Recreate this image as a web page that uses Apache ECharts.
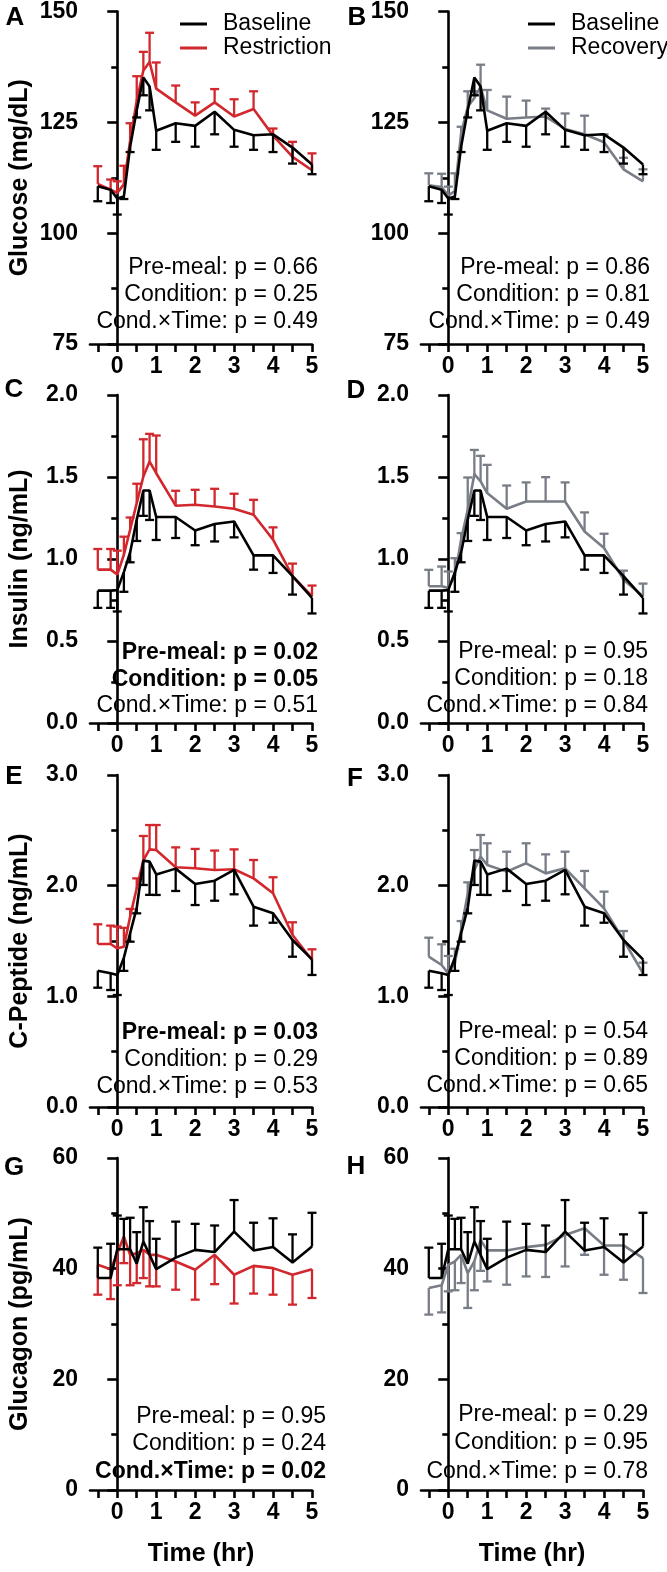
<!DOCTYPE html>
<html><head><meta charset="utf-8">
<script src="https://cdn.jsdelivr.net/npm/echarts@6/dist/echarts.min.js"></script>
<style>html,body{margin:0;padding:0;background:#fff}#c{width:667px;height:1572px}</style>
</head><body><div id="c"></div>
<script>
// ---- data ----
const timeHr = [-0.5, -0.17, 0, 0.17, 0.33, 0.5, 0.67, 0.83, 1, 1.5, 2, 2.5, 3, 3.5, 4, 4.5, 5];
const xTickValues = [-0.5, 0, 0.5, 1, 1.5, 2, 2.5, 3, 3.5, 4, 4.5, 5];
const xTickLabels = [0, 1, 2, 3, 4, 5];

const glucoseBaseline = [110.6, 109.8, 107.8, 108.3, 119.5, 127.7, 135.1, 133.1, 123.1, 124.8, 124.2, 127.4, 123.3, 122.1, 122.3, 119.3, 115.5];
const glucoseBaselineSem = [3.4, 3.0, 3.6, 0.6, 1.2, 1.6, 4.0, 5.4, 4.3, 4.2, 4.7, 5.1, 3.8, 3.3, 4.0, 3.6, 2.2];
const glucoseRestriction = [111.1, 109.8, 109.1, 111.0, 120.8, 129.9, 136.7, 138.6, 132.6, 129.5, 126.5, 129.5, 126.3, 128.0, 122.0, 117.2, 114.2];
const glucoseRestrictionSem = [4.0, 2.3, 2.6, 4.2, 4.0, 5.5, 4.2, 6.6, 5.9, 3.8, 3.0, 3.0, 3.9, 4.0, 1.6, 3.4, 3.8];
const glucoseRecovery = [110.8, 110.4, 108.5, 109.5, 122.5, 128.5, 130.5, 133.0, 127.7, 125.8, 126.1, 126.3, 123.5, 122.3, 120.5, 114.4, 111.7];
const glucoseRecoverySem = [2.7, 3.0, 2.0, 4.0, 1.5, 3.5, 1.5, 5.0, 4.6, 5.0, 3.8, 1.8, 3.5, 4.2, 1.8, 2.6, 2.7];

const insulinBaseline = [0.807, 0.807, 0.81, 0.92, 1.04, 1.24, 1.418, 1.418, 1.256, 1.256, 1.174, 1.213, 1.229, 1.022, 1.022, 0.895, 0.763];
const insulinBaselineSem = [0.105, 0.105, 0.13, 0.12, 0.06, 0.13, 0.155, 0.18, 0.14, 0.128, 0.09, 0.106, 0.097, 0.087, 0.107, 0.112, 0.095];
const insulinRestriction = [0.935, 0.935, 0.905, 1.026, 1.178, 1.341, 1.503, 1.594, 1.523, 1.325, 1.331, 1.32, 1.306, 1.27, 1.118, 0.895, 0.773];
const insulinRestrictionSem = [0.126, 0.126, 0.146, 0.11, 0.075, 0.118, 0.227, 0.169, 0.23, 0.091, 0.091, 0.108, 0.092, 0.091, 0.075, 0.077, 0.065];
const insulinRecovery = [0.834, 0.834, 0.824, 0.895, 1.118, 1.30, 1.517, 1.473, 1.402, 1.306, 1.351, 1.351, 1.351, 1.168, 1.067, 0.874, 0.773];
const insulinRecoverySem = [0.10, 0.12, 0.10, 0.11, 0.04, 0.197, 0.148, 0.156, 0.172, 0.142, 0.116, 0.148, 0.116, 0.116, 0.087, 0.055, 0.077];

const cpepBaseline = [1.232, 1.208, 1.193, 1.35, 1.569, 1.80, 2.226, 2.217, 2.102, 2.154, 2.015, 2.045, 2.142, 1.81, 1.75, 1.509, 1.334];
const cpepBaselineSem = [0.154, 0.151, 0.181, 0.12, 0.075, 0.05, 0.22, 0.30, 0.186, 0.202, 0.19, 0.181, 0.22, 0.171, 0.085, 0.151, 0.141];
const cpepRestriction = [1.473, 1.473, 1.434, 1.449, 1.72, 1.976, 2.232, 2.328, 2.322, 2.166, 2.157, 2.142, 2.148, 2.066, 1.931, 1.554, 1.328];
const cpepRestrictionSem = [0.178, 0.166, 0.196, 0.17, 0.07, 0.09, 0.217, 0.22, 0.226, 0.18, 0.175, 0.175, 0.18, 0.166, 0.145, 0.115, 0.097];
const cpepRecovery = [1.358, 1.283, 1.208, 1.30, 1.60, 1.93, 2.142, 2.262, 2.187, 2.127, 2.202, 2.111, 2.157, 1.976, 1.795, 1.509, 1.208];
const cpepRecoverySem = [0.172, 0.187, 0.157, 0.13, 0.08, 0.1, 0.18, 0.196, 0.196, 0.18, 0.181, 0.172, 0.15, 0.157, 0.151, 0.081, 0.096];

const glucagonBaseline = [38.3, 38.3, 43.5, 43.5, 43.5, 40.9, 44.9, 42.5, 39.9, 42.0, 43.4, 43.0, 46.7, 43.3, 43.9, 41.1, 44.0];
const glucagonBaselineSem = [5.5, 6.2, 6.1, 5.5, 5.7, 5.7, 6.2, 6.1, 5.5, 6.5, 4.7, 4.8, 5.7, 5.0, 5.2, 5.1, 6.1];
const glucagonRestriction = [40.7, 39.9, 42.8, 45.8, 42.5, 42.8, 43.4, 42.5, 42.5, 41.3, 39.8, 42.5, 38.9, 40.5, 40.1, 38.9, 39.9];
const glucagonRestrictionSem = [5.4, 5.4, 5.8, 4.8, 5.5, 5.4, 5.1, 5.7, 5.7, 5.1, 5.4, 5.3, 5.2, 5.0, 4.8, 5.4, 5.2];
const glucagonRecovery = [36.5, 37.0, 40.7, 41.3, 42.5, 39.2, 41.3, 45.2, 43.3, 43.3, 43.9, 44.3, 46.1, 47.3, 44.2, 44.2, 41.9];
const glucagonRecoverySem = [4.8, 4.9, 4.8, 5.2, 5.1, 6.3, 5.2, 5.6, 5.6, 6.2, 5.3, 5.8, 5.7, 4.8, 5.3, 6.2, 6.3];

const yTitles = ['Glucose (mg/dL)', 'Insulin (ng/mL)', 'C-Peptide (ng/mL)', 'Glucagon (pg/mL)'];
const panelLetters = ['A', 'B', 'C', 'D', 'E', 'F', 'G', 'H'];
const statTexts = [
  ['Pre-meal: p = 0.66', 'Condition: p = 0.25', 'Cond.×Time: p = 0.49'],
  ['Pre-meal: p = 0.86', 'Condition: p = 0.81', 'Cond.×Time: p = 0.49'],
  ['Pre-meal: p = 0.02', 'Condition: p = 0.05', 'Cond.×Time: p = 0.51'],
  ['Pre-meal: p = 0.95', 'Condition: p = 0.18', 'Cond.×Time: p = 0.84'],
  ['Pre-meal: p = 0.03', 'Condition: p = 0.29', 'Cond.×Time: p = 0.53'],
  ['Pre-meal: p = 0.54', 'Condition: p = 0.89', 'Cond.×Time: p = 0.65'],
  ['Pre-meal: p = 0.95', 'Condition: p = 0.24', 'Cond.×Time: p = 0.02'],
  ['Pre-meal: p = 0.29', 'Condition: p = 0.95', 'Cond.×Time: p = 0.78']
];
const statBold = [
  [0,0,0],[0,0,0],[1,1,0],[0,0,0],[1,0,0],[0,0,0],[0,0,1],[0,0,0]
];

// ---- styling / layout ----
const FONT = '"Liberation Sans", Arial, Helvetica, sans-serif';
const RED = '#d2282d', GRAY = '#787d86', BLACK = '#000000';
const rowTop = [11, 395, 775, 1158];
const rowH = [333, 328, 332, 332];
const colLeft = [90, 421];
const gridW = 222;
const yScales = [
  {min: 75, max: 150, interval: 25, dec: 0},
  {min: 0, max: 2, interval: 0.5, dec: 1},
  {min: 0, max: 3, interval: 1, dec: 1},
  {min: 0, max: 60, interval: 20, dec: 0}
];
const measures = [
  {base: glucoseBaseline, baseSem: glucoseBaselineSem, res: glucoseRestriction, resSem: glucoseRestrictionSem, rec: glucoseRecovery, recSem: glucoseRecoverySem, resDir: 1, recDir: 1, baseDir: -1},
  {base: insulinBaseline, baseSem: insulinBaselineSem, res: insulinRestriction, resSem: insulinRestrictionSem, rec: insulinRecovery, recSem: insulinRecoverySem, resDir: 1, recDir: 1, baseDir: -1},
  {base: cpepBaseline, baseSem: cpepBaselineSem, res: cpepRestriction, resSem: cpepRestrictionSem, rec: cpepRecovery, recSem: cpepRecoverySem, resDir: 1, recDir: 1, baseDir: -1},
  {base: glucagonBaseline, baseSem: glucagonBaselineSem, res: glucagonRestriction, resSem: glucagonRestrictionSem, rec: glucagonRecovery, recSem: glucagonRecoverySem, resDir: -1, recDir: -1, baseDir: 1}
];
const statRight = [318, 650, 318, 648, 318, 648, 326, 648];
const statY = [[268,295,322],[268,295,322],[653,680,706],[652,679,706],[1033,1060,1087],[1032,1059,1086],[1417,1444,1472],[1415,1443,1472]];
const letterPos = [[15,18],[357,18],[14,390],[356,391],[14,777],[355,779],[14,1168],[356,1167]];

function pairs(vals) { return timeHr.map((t, i) => [t, vals[i]]); }
function triples(vals, sems) { return timeHr.map((t, i) => [t, vals[i], sems[i]]); }

function errSeries(name, vals, sems, dir, color, gi, z) {
  return {
    type: 'custom', name: name, xAxisIndex: gi, yAxisIndex: gi, z: z, silent: true,
    encode: {x: 0, y: 1},
    data: triples(vals, sems),
    renderItem: function (params, api) {
      const x = api.value(0), m = api.value(1), s = api.value(2);
      const p0 = api.coord([x, m]);
      const p1 = api.coord([x, m + dir * s]);
      const half = 4.5;
      return {type: 'group', children: [
        {type: 'line', shape: {x1: p0[0], y1: p0[1], x2: p1[0], y2: p1[1]}, style: {stroke: color, lineWidth: 2.3}},
        {type: 'line', shape: {x1: p1[0] - half, y1: p1[1], x2: p1[0] + half, y2: p1[1]}, style: {stroke: color, lineWidth: 2.3}}
      ]};
    }
  };
}
function lineSeries(name, vals, color, gi, z) {
  return {
    type: 'line', name: name, xAxisIndex: gi, yAxisIndex: gi, z: z, silent: true,
    data: pairs(vals), symbol: 'none', showSymbol: false, color: color,
    lineStyle: {color: color, width: 2.6}, emphasis: {disabled: true}
  };
}

const grids = [], xAxes = [], yAxes = [], series = [], graphics = [];
for (let r = 0; r < 4; r++) {
  for (let c = 0; c < 2; c++) {
    const gi = r * 2 + c;
    const m = measures[r];
    const ys = yScales[r];
    grids.push({left: colLeft[c], top: rowTop[r], width: gridW, height: rowH[r]});
    xAxes.push({
      type: 'value', gridIndex: gi, min: -0.7, max: 5,
      axisLine: {show: true, onZero: false, lineStyle: {color: BLACK, width: 2.6}},
      axisTick: {show: true, customValues: xTickValues, length: 8, lineStyle: {color: BLACK, width: 2.6}},
      axisLabel: {show: true, customValues: xTickLabels, fontSize: 23, fontWeight: 'bold', color: BLACK, fontFamily: FONT, margin: 11},
      splitLine: {show: false},
      name: r === 3 ? 'Time (hr)' : '', nameLocation: 'middle', nameGap: 52,
      nameTextStyle: {fontSize: 25, fontWeight: 'bold', color: BLACK, fontFamily: FONT}
    });
    yAxes.push({
      type: 'value', gridIndex: gi, min: ys.min, max: ys.max, interval: ys.interval,
      axisLine: {show: true, lineStyle: {color: BLACK, width: 2.6}},
      axisTick: {show: true, length: 10, lineStyle: {color: BLACK, width: 2.6}},
      minorTick: {show: true, splitNumber: 2, length: 6, lineStyle: {color: BLACK, width: 2.6}},
      axisLabel: {fontSize: 23, fontWeight: 'bold', color: BLACK, fontFamily: FONT, margin: 12,
        formatter: (v) => v.toFixed(ys.dec)},
      splitLine: {show: false}, minorSplitLine: {show: false},
      name: c === 0 ? yTitles[r] : '', nameLocation: 'middle', nameGap: 57,
      nameTextStyle: {fontSize: 25, fontWeight: 'bold', color: BLACK, fontFamily: FONT}
    });
    const other = c === 0 ? {name: 'Restriction', v: m.res, s: m.resSem, d: m.resDir, col: RED}
                          : {name: 'Recovery', v: m.rec, s: m.recSem, d: m.recDir, col: GRAY};
    series.push(errSeries(other.name + ' SEM', other.v, other.s, other.d, other.col, gi, 2));
    series.push(lineSeries(other.name, other.v, other.col, gi, 3));
    series.push(errSeries('Baseline SEM', m.base, m.baseSem, m.baseDir, BLACK, gi, 4));
    series.push(lineSeries('Baseline', m.base, BLACK, gi, 5));

    statTexts[gi].forEach((t, k) => {
      graphics.push({type: 'text', x: statRight[gi], y: statY[gi][k], silent: true,
        style: {text: t, textAlign: 'right', textVerticalAlign: 'middle', fill: BLACK,
          font: (statBold[gi][k] ? 'bold ' : '') + '23px ' + FONT}});
    });
    graphics.push({type: 'text', x: letterPos[gi][0], y: letterPos[gi][1], silent: true,
      style: {text: panelLetters[gi], textAlign: 'center', textVerticalAlign: 'middle', fill: BLACK,
        font: 'bold 26px ' + FONT}});
  }
}

const legendBase = {
  orient: 'vertical', itemWidth: 27, itemHeight: 3, icon: 'rect', itemGap: 0, selectedMode: false,
  textStyle: {fontSize: 23, color: BLACK, fontFamily: FONT, lineHeight: 24, padding: [0, 0, 0, 11]}
};

const chart = echarts.init(document.getElementById('c'), null, {renderer: 'canvas'});
chart.setOption({
  animation: false,
  backgroundColor: '#ffffff',
  grid: grids, xAxis: xAxes, yAxis: yAxes, series: series,
  legend: [
    Object.assign({}, legendBase, {data: ['Baseline', 'Restriction'], left: 175, top: 7}),
    Object.assign({}, legendBase, {data: ['Baseline', 'Recovery'], left: 523, top: 7})
  ],
  graphic: graphics
});
</script></body></html>
